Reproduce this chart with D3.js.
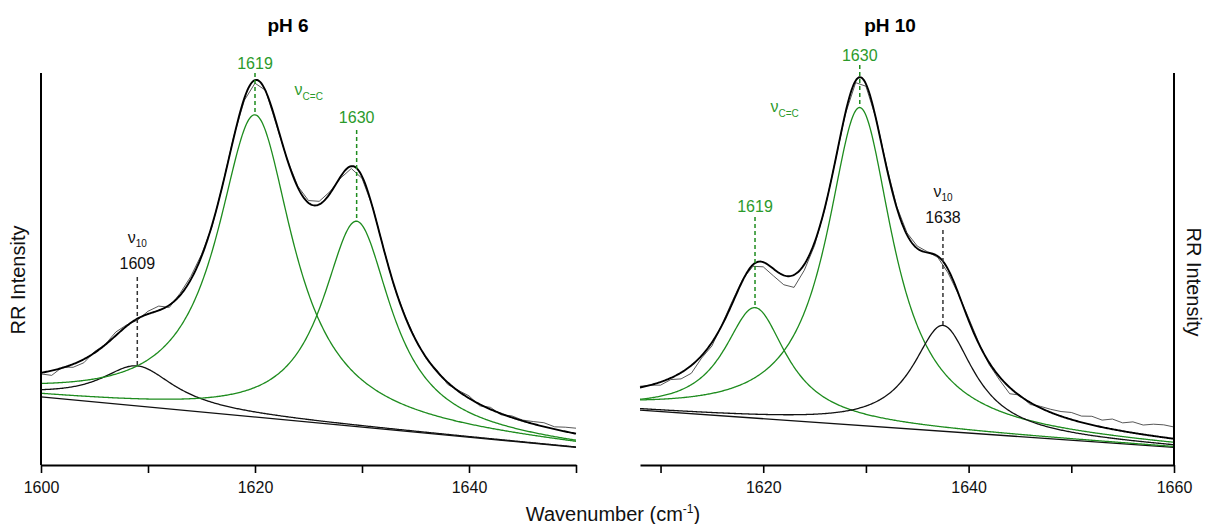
<!DOCTYPE html>
<html>
<head>
<meta charset="utf-8">
<script src="https://cdn.jsdelivr.net/npm/d3@7"></script>
<style>
  body { margin: 0; background: #fff; }
  svg { display: block; font-family: "Liberation Sans", Arial, sans-serif; }
</style>
</head>
<body>
<svg id="chart" width="1208" height="524"></svg>
<script>
// Resonance Raman band fit of the nu(C=C) / nu10 region at two pH values
// Bands are Lorentzians sitting on a linear baseline; raw spectrum = fit + residual

// ---- data: pH 6 ----
const ph6Domain = [1600, 1650];
const ph6Baseline = [[1600, 17.4], [1650, 4.5]];
const ph6Bands = [
  { name: '1609', mode: 'ν10', kind: 'ring', center: 1609.0, height: 10.2, hwhm: 4.2 },
  { name: '1619', mode: null,  kind: 'cc',   center: 1620.0, height: 77.1, hwhm: 4.3 },
  { name: '1630', mode: null,  kind: 'cc',   center: 1629.5, height: 52.4, hwhm: 3.9 }
];
// residual of the measured spectrum vs. fit, one value per cm-1 from 1600
const ph6Resid = [-0.3, -1.2, 0.2, -0.8, -0.9, 0.3, 0.1, 0.9, 0.3, -0.4,
  0.7, 1.1, -0.6, 0.5, 0.8, 0.5, -0.4, 0.0, 0.3, -0.5,
  -0.8, 0.2, -0.5, 0.0, 0.3, 0.6, 0.8, 0.5, -0.4, -0.6,
  -0.5, 0.2, 0.0, -0.3, 0.2, 0.0, -0.3, 0.4, -0.5, 0.2,
  0.6, -0.4, 0.5, -0.3, 0.4, 0.2, 0.6, 1.0, 0.6, 1.1, 1.4];
const ph6Ticks = [1600, 1610, 1620, 1630, 1640, 1650];
const ph6TickLabels = [1600, 1620, 1640];
const ph6ModePos = 1623.7;

// ---- data: pH 10 ----
const ph10Domain = [1608, 1660];
const ph10Baseline = [[1608, 14.0], [1660, 4.5]];
const ph10Bands = [
  { name: '1619', mode: null,  kind: 'cc',   center: 1619.2, height: 28.2, hwhm: 3.7 },
  { name: '1630', mode: null,  kind: 'cc',   center: 1629.4, height: 81.1, hwhm: 3.9 },
  { name: '1638', mode: 'ν10', kind: 'ring', center: 1637.5, height: 27.0, hwhm: 3.6 }
];
// residual per cm-1 from 1608
const ph10Resid = [0.3, 0.0, -0.8, -0.4, -1.6, -2.0, -0.6, -0.9, 0.2, 0.6,
  0.3, -0.4, -1.2, -1.8, -2.4, -3.2, -1.5, -0.8, -0.3, 0.0,
  -0.3, -0.5, -0.6, 0.2, 0.4, 0.3, 0.5, 0.6, 0.2, -0.3,
  -0.9, -0.2, 0.6, 0.3, -0.5, -0.8, -1.6, 0.2, -0.5, 0.4,
  0.8, 1.2, 1.8, 1.6, 2.2, 1.8, 2.6, 2.1, 2.8, 2.4,
  3.0, 3.2, 3.0];
const ph10Ticks = [1610, 1620, 1630, 1640, 1650, 1660];
const ph10TickLabels = [1620, 1640, 1660];
const ph10ModePos = 1620.7;

// ---- layout ----
const Y_TOP = 73, Y_BOT = 465;
const GREEN = '#1e8c1e', GREEN_TXT = '#2b9a2b';

const panels = [
  {
    title: 'pH 6', titleX: 288, side: 'left', range: [41, 576],
    domain: ph6Domain, baseline: ph6Baseline, bands: ph6Bands, resid: ph6Resid,
    ticks: ph6Ticks, tickLabels: ph6TickLabels, modePos: ph6ModePos, modeY: 95,
    notes: { '1609': { numY: 269, nuY: 243, dashTop: 277 },
             '1619': { numY: 69, dashTop: 73 },
             '1630': { numY: 123, dashTop: 130 } }
  },
  {
    title: 'pH 10', titleX: 890, side: 'right', range: [640, 1174],
    domain: ph10Domain, baseline: ph10Baseline, bands: ph10Bands, resid: ph10Resid,
    ticks: ph10Ticks, tickLabels: ph10TickLabels, modePos: ph10ModePos, modeY: 112,
    notes: { '1619': { numY: 212, dashTop: 217 },
             '1630': { numY: 61, dashTop: 65 },
             '1638': { numY: 223, nuY: 197, dashTop: 230 } }
  }
];

const svg = d3.select('#chart');
const yScale = d3.scaleLinear().domain([0, 100]).range([Y_BOT, Y_TOP]);

function lorentz(b, x) {
  const t = (x - b.center) / b.hwhm;
  return b.height / (1 + t * t);
}
function baseAt(bl, x) {
  const [[x0, y0], [x1, y1]] = bl;
  return y0 + (y1 - y0) * (x - x0) / (x1 - x0);
}

function drawPanel(p) {
  const x = d3.scaleLinear().domain(p.domain).range(p.range);
  const g = svg.append('g');
  const grid = d3.range(p.domain[0], p.domain[1] + 0.0001, 0.1);
  const line = d3.line().x(d => x(d[0])).y(d => yScale(d[1]));
  const fit = v => baseAt(p.baseline, v) + d3.sum(p.bands, b => lorentz(b, v));

  // baseline
  g.append('path')
    .attr('d', line(p.domain.map(v => [v, baseAt(p.baseline, v)])))
    .attr('fill', 'none').attr('stroke', '#111').attr('stroke-width', 1.3);

  // components
  p.bands.forEach(b => {
    g.append('path')
      .attr('d', line(grid.map(v => [v, baseAt(p.baseline, v) + lorentz(b, v)])))
      .attr('fill', 'none')
      .attr('stroke', b.kind === 'cc' ? GREEN : '#111')
      .attr('stroke-width', 1.3);
  });

  // measured spectrum
  const raw = p.resid.map((r, i) => {
    const v = p.domain[0] + i;
    return [v, fit(v) + r];
  });
  g.append('path')
    .attr('d', line(raw))
    .attr('fill', 'none').attr('stroke', '#444').attr('stroke-width', 0.9);

  // envelope
  g.append('path')
    .attr('d', line(grid.map(v => [v, fit(v)])))
    .attr('fill', 'none').attr('stroke', '#000').attr('stroke-width', 1.9);

  // annotations
  p.bands.forEach(b => {
    const n = p.notes[b.name];
    const col = b.kind === 'cc' ? GREEN : '#333';
    const cx = x(b.center);
    g.append('line')
      .attr('x1', cx).attr('x2', cx)
      .attr('y1', n.dashTop)
      .attr('y2', yScale(baseAt(p.baseline, b.center) + b.height))
      .attr('stroke', col).attr('stroke-width', 1.5)
      .attr('stroke-dasharray', '4,3');
    g.append('text')
      .attr('x', cx).attr('y', n.numY)
      .attr('text-anchor', 'middle')
      .attr('font-size', 16)
      .attr('fill', b.kind === 'cc' ? GREEN_TXT : '#111')
      .text(b.name);
    if (b.mode) {
      const t = g.append('text')
        .attr('x', cx).attr('y', n.nuY)
        .attr('text-anchor', 'middle')
        .attr('font-size', 16).attr('fill', '#111');
      t.append('tspan').text(b.mode.charAt(0));
      t.append('tspan').attr('font-size', 10).attr('dy', 4).text(b.mode.slice(1));
    }
  });

  const mt = g.append('text')
    .attr('x', x(p.modePos)).attr('y', p.modeY)
    .attr('font-size', 16).attr('fill', GREEN_TXT);
  mt.append('tspan').text('ν');
  mt.append('tspan').attr('font-size', 10).attr('dy', 5).text('C=C');

  // x axis
  const ax = g.append('g')
    .attr('transform', `translate(0,${Y_BOT})`)
    .call(d3.axisBottom(x)
      .tickValues(p.ticks)
      .tickFormat(d => p.tickLabels.includes(d) ? d : '')
      .tickSize(8).tickSizeOuter(0).tickPadding(9));
  ax.select('.domain').attr('stroke', '#000').attr('stroke-width', 2);
  ax.selectAll('.tick line').attr('stroke', '#000').attr('stroke-width', 1.6);
  ax.selectAll('.tick text')
    .attr('font-size', 16).attr('fill', '#111')
    .attr('font-family', '"Liberation Sans", Arial, sans-serif');

  // y axis line (no ticks)
  const yx = p.side === 'left' ? p.range[0] : p.range[1];
  g.append('line')
    .attr('x1', yx).attr('x2', yx).attr('y1', Y_TOP).attr('y2', Y_BOT)
    .attr('stroke', '#000').attr('stroke-width', 2);

  // title
  g.append('text')
    .attr('x', p.titleX).attr('y', 32)
    .attr('text-anchor', 'middle')
    .attr('font-size', 19).attr('font-weight', 'bold')
    .text(p.title);
}

panels.forEach(drawPanel);

// axis titles
svg.append('text')
  .attr('transform', 'translate(25,280) rotate(-90)')
  .attr('text-anchor', 'middle').attr('font-size', 20).attr('fill', '#111')
  .text('RR Intensity');
svg.append('text')
  .attr('transform', 'translate(1187,282) rotate(90)')
  .attr('text-anchor', 'middle').attr('font-size', 20).attr('fill', '#111')
  .text('RR Intensity');

const xt = svg.append('text')
  .attr('x', 613).attr('y', 521)
  .attr('text-anchor', 'middle').attr('font-size', 20).attr('fill', '#111');
xt.append('tspan').text('Wavenumber (cm');
xt.append('tspan').attr('font-size', 12).attr('dy', -8).text('-1');
xt.append('tspan').attr('dy', 8).text(')');
</script>
</body>
</html>
